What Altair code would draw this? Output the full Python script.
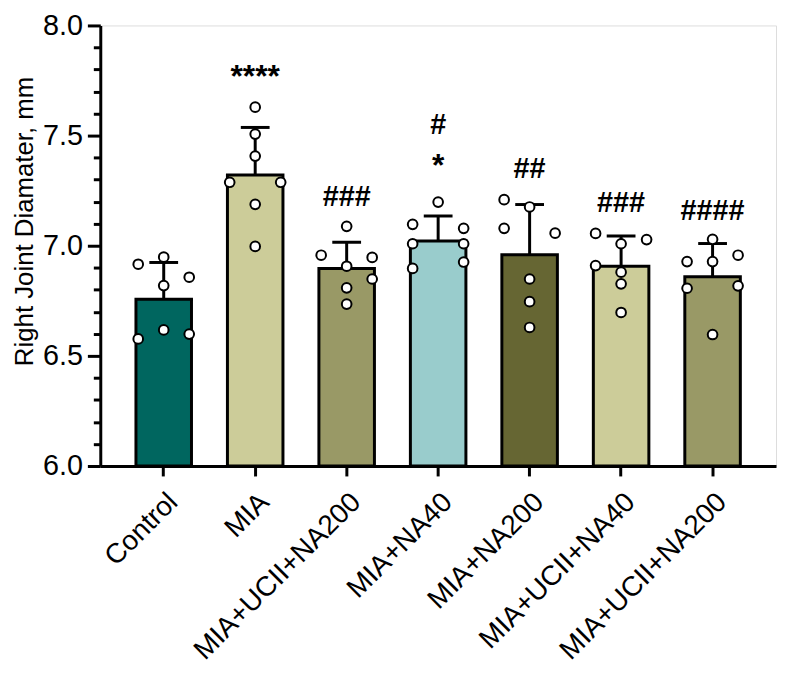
import altair as alt
import pandas as pd

# ---- data ----
groups = ["Control", "MIA", "MIA+UCII+NA200", "MIA+NA40", "MIA+NA200",
          "MIA+UCII+NA40", "MIA+UCII+NA200"]
means = [6.757, 7.321, 6.897, 7.022, 6.959, 6.907, 6.859]
sds = [0.167, 0.216, 0.119, 0.113, 0.228, 0.137, 0.151]
colors = ["#00665f", "#cccc99", "#999966", "#99cccc", "#666633", "#cccc99", "#999966"]

point_values = [
    [6.916, 6.948, 6.857, 6.819, 6.618, 6.577, 6.599],
    [7.629, 7.507, 7.407, 7.288, 7.288, 7.188, 6.997],
    [7.088, 6.957, 6.947, 6.907, 6.849, 6.809, 6.735],
    [7.198, 7.097, 7.079, 7.009, 7.009, 6.926, 6.897],
    [7.209, 7.176, 7.079, 7.057, 6.849, 6.746, 6.629],
    [7.056, 7.028, 7.009, 6.910, 6.880, 6.827, 6.697],
    [7.029, 6.957, 6.928, 6.928, 6.807, 6.818, 6.597],
]
point_jitter = [
    [-1, 0, 1, 0, 0, -1, 1],
    [0, 0, 0, -1, 1, 0, 0],
    [0, -1, 1, 0, 1, 0, 0],
    [0, -1, 1, -1, 1, 1, -1],
    [-1, 0, -1, 1, 0, 0, 0],
    [-1, 1, 0, -1, 0, 0, 0],
    [0, 1, -1, 0, -1, 1, 0],
]

hash_labels = ["", "", "###", "#", "##", "###", "####"]
hash_y = [None, None, 7.181, 7.507, 7.309, 7.154, 7.119]
star_labels = ["", "****", "", "*", "", "", ""]
star_y = [None, 7.719, None, 7.318, None, None, None]

major_ticks = [6.0, 6.5, 7.0, 7.5, 8.0]
minor_ticks = [6.1, 6.2, 6.3, 6.4, 6.6, 6.7, 6.8, 6.9,
               7.1, 7.2, 7.3, 7.4, 7.6, 7.7, 7.8, 7.9]

# ---- tables ----
keys = [f"{i}|{g}" for i, g in enumerate(groups)]
summary = pd.DataFrame({"key": keys, "mean": means, "sd": sds})
pts = pd.DataFrame(
    [{"key": keys[i], "val": v, "jit": j}
     for i in range(len(groups))
     for v, j in zip(point_values[i], point_jitter[i])]
)
hashes = pd.DataFrame([{"key": keys[i], "label": hash_labels[i], "y": hash_y[i]}
                       for i in range(len(groups)) if hash_labels[i]])
stars = pd.DataFrame([{"key": keys[i], "label": star_labels[i], "y": star_y[i]}
                      for i in range(len(groups)) if star_labels[i]])
minor_df = pd.DataFrame({"v": minor_ticks})

FONT = "Liberation Sans"

x_enc = alt.X(
    "key:N",
    sort=keys,
    scale=alt.Scale(paddingInner=0.393, paddingOuter=0.39),
    axis=alt.Axis(
        title=None,
        labelExpr="split(datum.value, '|')[1]",
        labelAngle=-45,
        labelAlign="right",
        labelBaseline="top",
        labelOffset=0,
        labelPadding=12,
        labelFontSize=28,
        labelFont=FONT,
        labelColor="black",
        labelLimit=0,
        labelOverlap=False,
        tickSize=10,
        tickWidth=3,
        tickColor="black",
        domainWidth=3,
        domainColor="black",
        grid=False,
    ),
)
xk = alt.X("key:N", sort=keys)

y_scale = alt.Scale(domain=[6.0, 8.0], nice=False, zero=False)
y_axis = alt.Axis(
    orient="left",
    title="Right Joint Diamater, mm",
    titleFont=FONT,
    titleFontSize=26,
    titleFontWeight="normal",
    titleColor="black",
    titleAngle=-90,
    titleAlign="center",
    titleBaseline="alphabetic",
    titleX=-68,
    titleY=197,
    values=major_ticks,
    format=".1f",
    labelOverlap=False,
    labelFontSize=29,
    labelFont=FONT,
    labelColor="black",
    labelPadding=5,
    tickSize=13,
    tickWidth=3,
    tickColor="black",
    domainWidth=3,
    domainColor="black",
    grid=False,
)
minor_axis = alt.Axis(
    orient="left",
    title=None,
    values=minor_ticks,
    labels=False,
    domain=False,
    grid=False,
    tickSize=7,
    tickWidth=3,
    tickColor="black",
    offset=0,
)

bars = alt.Chart(summary).mark_bar(stroke="black", strokeWidth=3, opacity=1).encode(
    x=x_enc,
    y=alt.Y("mean:Q", scale=y_scale, axis=y_axis),
    y2=alt.datum(6.0),
    color=alt.Color("key:N", scale=alt.Scale(domain=keys, range=colors), legend=None),
)

# carrier layer for the minor-tick axis (its marks are invisible)
minor = alt.Chart(minor_df).mark_point(opacity=0).encode(
    y=alt.Y("v:Q", axis=minor_axis),
    x=alt.value(0),
)

err = alt.Chart(summary).transform_calculate(top="datum.mean + datum.sd")

err_rule = err.mark_rule(color="black", strokeWidth=3, opacity=1).encode(
    x=xk,
    y=alt.Y("mean:Q", axis=None),
    y2="top:Q",
)
err_cap = err.mark_tick(color="black", thickness=3, size=29, orient="horizontal",
                        opacity=1).encode(
    x=xk,
    y=alt.Y("top:Q", axis=None),
)

point_layers = []
for j, off in [(-1, -25.7), (0, 0.0), (1, 25.7)]:
    point_layers.append(
        alt.Chart(pts).transform_filter(f"datum.jit == {j}").mark_point(
            shape="circle", filled=True, fill="white", stroke="black",
            strokeWidth=2, size=95, opacity=1, xOffset=off,
        ).encode(
            x=xk,
            y=alt.Y("val:Q", axis=None),
        )
    )

hash_text = alt.Chart(hashes).mark_text(
    font=FONT, fontSize=29, fontWeight="bold", baseline="alphabetic", color="black"
).encode(x=xk, y=alt.Y("y:Q", axis=None), text="label:N")

star_text = alt.Chart(stars).mark_text(
    font=FONT, fontSize=32, fontWeight="bold", baseline="alphabetic", color="black"
).encode(x=xk, y=alt.Y("y:Q", axis=None), text="label:N")

chart = alt.layer(bars, minor, err_rule, err_cap, *point_layers, hash_text, star_text).resolve_axis(
    y="independent"
).properties(
    width=681,
    height=444,
    autosize=alt.AutoSizeParams(type="none"),
    padding={"left": 93, "top": 15, "right": 2, "bottom": 205},
).configure_view(stroke=None).configure(background="white")

chart.save("out.html", embed_options={"renderer": "svg", "actions": False})
